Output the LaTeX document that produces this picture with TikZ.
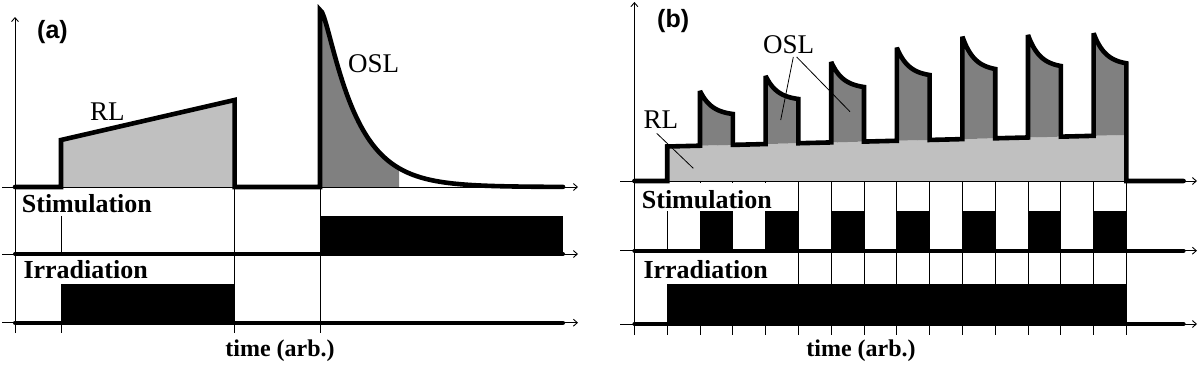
\documentclass[tikz,border=0pt]{standalone}
\usepackage{fontspec}
\setmainfont{Liberation Serif}
\newfontfamily\labfont{Liberation Sans}
\usetikzlibrary{arrows.meta}
\definecolor{lightfill}{HTML}{C0C0C0}
\definecolor{darkfill}{HTML}{808080}
\begin{document}
\begin{tikzpicture}[x=1pt,y=-1pt,
  axis/.style={line width=0.9pt,-{Straight Barb[length=4pt,width=7pt]}},
  gridline/.style={line width=0.9pt},
  sig/.style={line width=4.6pt,line cap=round,line join=miter,miter limit=3},
  baseline/.style={line width=4pt,line cap=round},
  lbl/.style={font=\fontsize{26}{30}\selectfont\bfseries,fill=white,inner xsep=2pt,inner ysep=0pt,anchor=base west},
  curvelbl/.style={font=\fontsize{27}{30}\selectfont,inner sep=0pt,anchor=base west},
  panel/.style={font=\labfont\fontsize{25}{28}\selectfont\bfseries,inner sep=0pt,anchor=base west},
  timelbl/.style={font=\fontsize{24}{28}\selectfont\bfseries,inner sep=0pt,anchor=base},
  leader/.style={line width=0.8pt}]
\useasboundingbox (0,0) rectangle (1200,368);

%================ panel (a) ================
% fills
\fill[lightfill] (61,187) -- (61,140) -- (234.6,100) -- (234.6,187) -- cycle;
\fill[darkfill] (320,187) -- plot[domain=0:79,samples=40] ({320+\x},{187-177*exp(-(\x/(\x+8))*(\x/32))}) -- (399,187) -- cycle;
% grid lines
\draw[gridline] (61,187) -- (61,333);
\draw[gridline] (234.6,187) -- (234.6,333);
\draw[gridline] (320,187) -- (320,333);
% channel labels
\node[lbl,text height=23.3pt,text depth=3.4pt] (stimA) at (19.7,212.3) {Stimulation};
\node[lbl,text height=22.3pt,text depth=5.7pt] (irrA) at (21.3,278.3) {Irradiation};
% pulses
\fill (320,215.7) rectangle (563,254);
\fill (61,284) rectangle (234.6,322.7);
% axes
\draw[axis] (2,187) -- (578,187);
\draw[axis] (2,254) -- (578,254);
\draw[axis] (2,322.7) -- (578,322.7);
\draw[axis] (15,333) -- (15,17);
% thick traces
\draw[baseline] (15,254) -- (563,254);
\draw[baseline] (15,322.7) -- (563,322.7);
\draw[sig] (15,187) -- (61,187) -- (61,140) -- (234.6,100) -- (234.6,187) -- (320,187)
  -- plot[domain=0:243,samples=120] ({320+\x},{187-177*exp(-(\x/(\x+8))*(\x/32))});
% labels
\node[curvelbl] (rlA) at (90,120) {RL};
\node[curvelbl] (oslA) at (348,72) {OSL};
\node[panel] (pa) at (37,38.7) {(a)};
\node[timelbl] (timeA) at (280,356.7) {time (arb.)};

%================ panel (b) ================
\fill[lightfill] (667.2,181) -- (667.2,146.5) -- (1126.4,135) -- (1126.4,181) -- cycle;
\foreach \xo/\pk/\en/\ra/\rb in {700.0/91/114/145.70/144.87, 765.6/76/99/144.05/143.23, 831.2/62/87/142.41/141.58, 896.8/47.7/75/140.76/139.94, 962.4/36.7/69/139.11/138.29, 1028.0/35/66/137.47/136.65, 1093.6/33.3/63.3/135.82/135.0}
  \fill[darkfill] (\xo,\ra) -- (\xo,\pk) -- plot[domain=0:32.8,samples=25] ({\xo+\x},{\pk+(\en-\pk)*(1-exp(-\x/12))/0.935}) -- ({\xo+32.8},\rb) -- cycle;
% grid lines
\foreach \k in {1,...,15}
  \draw[gridline] ({634.4+32.8*\k},181) -- ({634.4+32.8*\k},335);
% channel labels
\node[lbl,text height=25pt,text depth=3.3pt] (stimB) at (639.7,208) {Stimulation};
\node[lbl,text height=25.3pt,text depth=6pt] (irrB) at (641.3,278) {Irradiation};
% pulses
\foreach \k in {2,4,...,14}
  \fill ({634.4+32.8*\k},211.3) rectangle ({634.4+32.8*(\k+1)},250.7);
\fill (667.2,284) rectangle (1126.4,324);
% axes
\draw[axis] (620,181) -- (1197,181);
\draw[axis] (620,250.7) -- (1197,250.7);
\draw[axis] (620,324) -- (1197,324);
\draw[axis] (634.4,335) -- (634.4,2);
% thick traces
\draw[baseline] (634.4,250.7) -- (1183.6,250.7);
\draw[baseline] (634.4,324) -- (1183.6,324);
\draw[sig] (634.4,181) -- (667.2,181) -- (667.2,146.5)
  \foreach \xo/\pk/\en/\ra/\rb in {700.0/91/114/145.70/144.87, 765.6/76/99/144.05/143.23, 831.2/62/87/142.41/141.58, 896.8/47.7/75/140.76/139.94, 962.4/36.7/69/139.11/138.29, 1028.0/35/66/137.47/136.65, 1093.6/33.3/63.3/135.82/135.0}
  { -- (\xo,\ra) -- (\xo,\pk) -- plot[domain=0:32.8,samples=25] ({\xo+\x},{\pk+(\en-\pk)*(1-exp(-\x/12))/0.935}) -- ({\xo+32.8},\rb) }
  -- (1126.4,181) -- (1183.6,181);
% labels and leaders
\node[curvelbl] (rlB) at (643.3,128.3) {RL};
\node[curvelbl] (oslB) at (763,53.3) {OSL};
\coordinate (rlBa) at (656.7,133.3);
\coordinate (rlBb) at (693.3,168.3);
\coordinate (oslBa) at (793.3,57);
\coordinate (oslBb) at (780.7,120);
\coordinate (oslBc) at (796.7,57);
\coordinate (oslBd) at (850,111.7);
\draw[leader] (rlBa) -- (rlBb);
\draw[leader] (oslBa) -- (oslBb);
\draw[leader] (oslBc) -- (oslBd);
\node[panel] (pb) at (657,27.9) {(b)};
\node[timelbl] (timeB) at (861,356.7) {time (arb.)};
\end{tikzpicture}
\end{document}
